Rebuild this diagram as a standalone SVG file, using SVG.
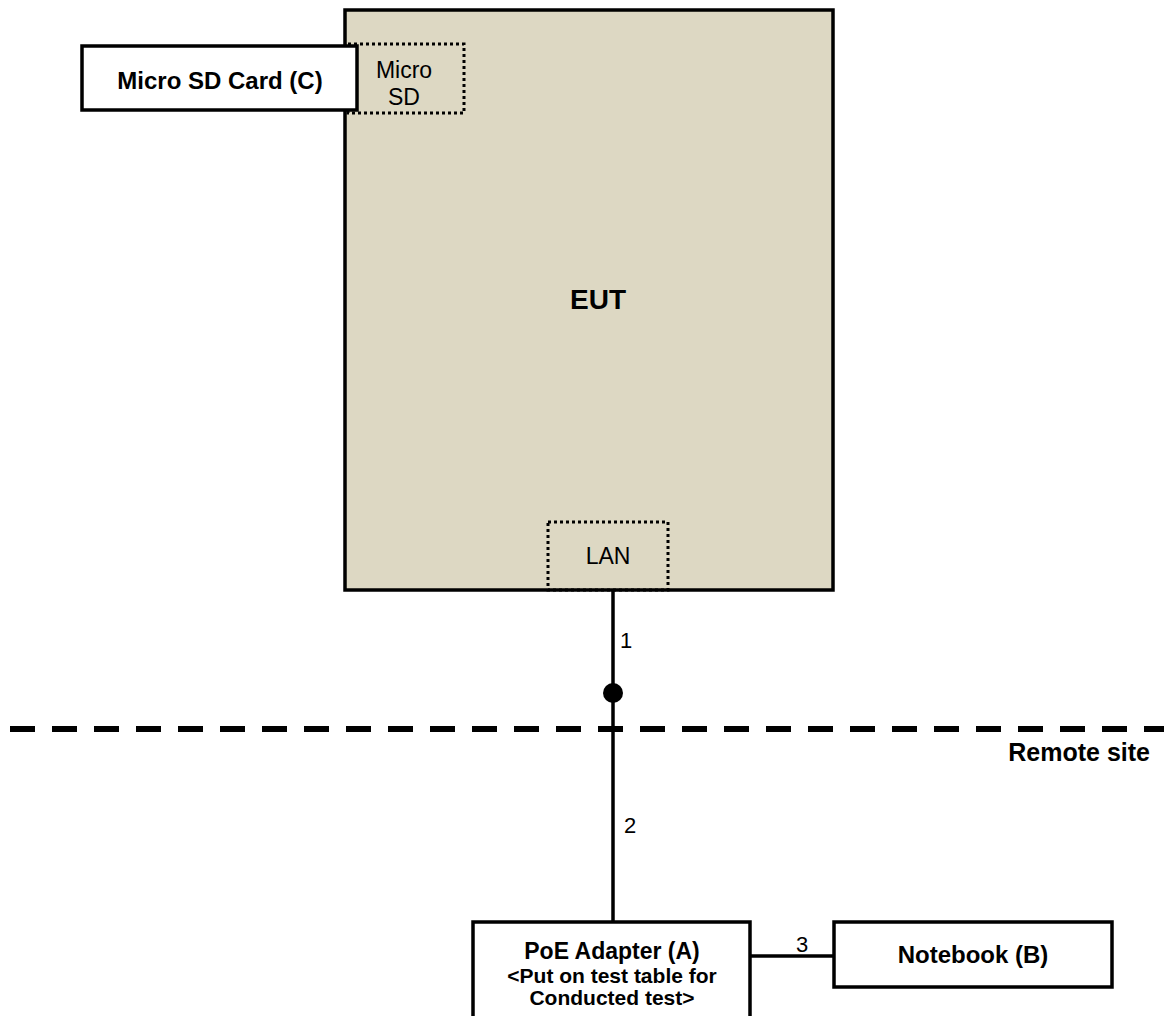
<svg xmlns="http://www.w3.org/2000/svg" width="1164" height="1016" viewBox="0 0 1164 1016">
<style>
.box{fill:#fff;stroke:#000;stroke-width:3.5}
.dot{fill:none;stroke:#000;stroke-width:3;stroke-dasharray:3 3}
.b{font-family:"Liberation Sans",Arial,sans-serif;font-weight:bold;text-anchor:middle;fill:#000}
.n{font-family:"Liberation Sans",Arial,sans-serif;text-anchor:middle;fill:#000}
.wire{stroke:#000;stroke-width:3.5;fill:none}
</style>
<rect width="1164" height="1016" fill="#fff"/>
<g id="eut">
<rect x="345" y="10" width="488" height="580" fill="#DDD8C3" stroke="#000" stroke-width="3.5"/>
<text class="b" x="598" y="309" font-size="28">EUT</text>
</g>
<g id="microsd-port">
<rect class="dot" x="348" y="44" width="116" height="69"/>
<text class="n" x="404" y="78" font-size="23">Micro</text>
<text class="n" x="404" y="105" font-size="23">SD</text>
</g>
<g id="lan-port">
<rect class="dot" x="548" y="522" width="120" height="68"/>
<text class="n" x="608" y="564" font-size="23">LAN</text>
</g>
<g id="microsd-card">
<rect class="box" x="82" y="46" width="275" height="64"/>
<text class="b" x="220" y="89" font-size="24">Micro SD Card (C)</text>
</g>
<g id="connectors">
<line class="wire" x1="613" y1="590" x2="613" y2="922"/>
<circle cx="613" cy="693" r="10" fill="#000"/>
<line class="wire" x1="750" y1="956" x2="834" y2="956"/>
<text class="n" x="626" y="648" font-size="22">1</text>
<text class="n" x="630" y="833" font-size="22">2</text>
<text class="n" x="802" y="952" font-size="22">3</text>
</g>
<g id="boundary">
<line x1="10" y1="729" x2="1164" y2="729" stroke="#000" stroke-width="6" stroke-dasharray="25 17"/>
<text class="b" x="1150" y="761" font-size="25" style="text-anchor:end">Remote site</text>
</g>
<g id="poe-adapter">
<rect class="box" x="473" y="922" width="277" height="110"/>
<text class="b" x="612" y="959" font-size="23">PoE Adapter (A)</text>
<text class="b" x="612" y="983" font-size="21">&lt;Put on test table for</text>
<text class="b" x="612" y="1005" font-size="21">Conducted test&gt;</text>
</g>
<g id="notebook">
<rect class="box" x="834" y="922" width="278" height="65"/>
<text class="b" x="973" y="963" font-size="24">Notebook (B)</text>
</g>
</svg>
